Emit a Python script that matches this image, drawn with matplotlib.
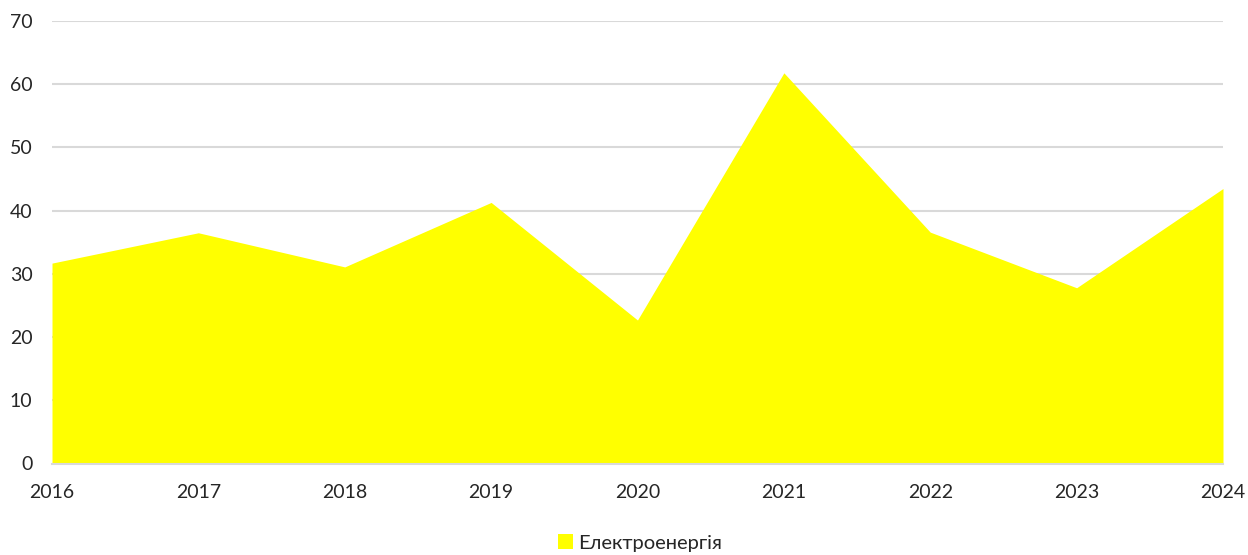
import matplotlib
matplotlib.use("Agg")
import matplotlib.pyplot as plt
from matplotlib.patches import Patch

years = [2016, 2017, 2018, 2019, 2020, 2021, 2022, 2023, 2024]
electricity = [31.7, 36.5, 31.1, 41.3, 22.7, 61.8, 36.6, 27.8, 43.5]
series_name = "Електроенергія"
y_ticks = [0, 10, 20, 30, 40, 50, 60, 70]

plt.rcParams['font.family'] = ['Lato', 'DejaVu Sans']
text_color = "#262626"
fill_color = "#FFFF00"
grid_color = "#D9D9D9"

fig = plt.figure(figsize=(12.48, 5.55), dpi=100)
ax = fig.add_axes([52 / 1248, 1 - 463.5 / 555, (1223 - 52) / 1248, (463.5 - 21) / 555])

ax.fill_between(years, electricity, 0, color=fill_color, linewidth=0, zorder=2)

ax.set_xlim(years[0], years[-1])
ax.set_ylim(0, 70)
ax.set_xticks(years)
ax.set_xticklabels([str(y) for y in years])
ax.set_yticks(y_ticks)

ax.grid(axis='y', color=grid_color, linewidth=1.5, zorder=1)
ax.set_axisbelow(True)
for side in ['top', 'right', 'left']:
    ax.spines[side].set_visible(False)
ax.spines['bottom'].set_color(grid_color)
ax.spines['bottom'].set_linewidth(1.5)
ax.spines['bottom'].set_zorder(3)

ax.tick_params(axis='both', length=0, labelsize=14, colors=text_color)
ax.tick_params(axis='x', pad=15)
ax.tick_params(axis='y', pad=14)

fig.legend(handles=[Patch(facecolor=fill_color, edgecolor='none', label=series_name)],
           loc='center', bbox_to_anchor=(640 / 1248, 1 - 543 / 555),
           frameon=False, fontsize=14.5, handlelength=0.75, handleheight=0.75,
           handletextpad=0.25, labelcolor=text_color)

fig.savefig("out.png", dpi=100)
